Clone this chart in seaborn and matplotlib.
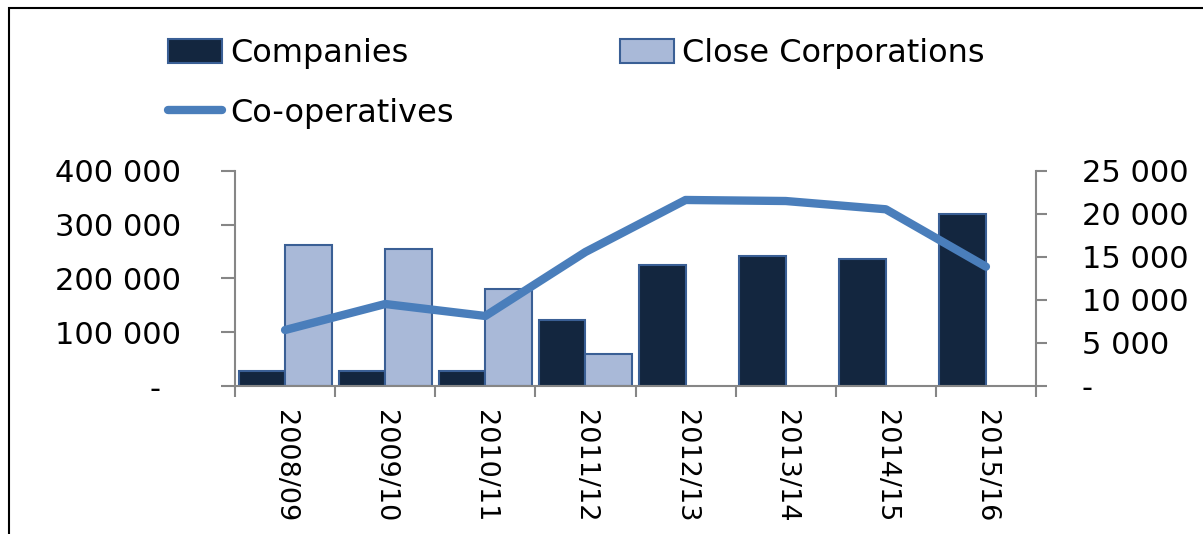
import numpy as np
import pandas as pd
import matplotlib
matplotlib.use("Agg")
import matplotlib.pyplot as plt
import seaborn as sns
from matplotlib.patches import Patch, Rectangle
from matplotlib.lines import Line2D
from matplotlib.ticker import FuncFormatter

years = ["2008/09", "2009/10", "2010/11", "2011/12", "2012/13", "2013/14", "2014/15", "2015/16"]
companies = [28000, 28000, 28000, 122700, 224300, 241600, 236600, 320300]
close_corps = [262600, 254600, 179700, 60000, np.nan, np.nan, np.nan, np.nan]
coops = [6500, 9520, 8130, 15560, 21600, 21480, 20520, 13860]

navy = "#13263F"
light = "#A9B9D8"
edge = "#3A5F95"
line_blue = "#4A7EBB"
gray = "#868686"

sns.set_style("ticks")
plt.rcParams["font.family"] = ["DejaVu Sans"]
plt.rcParams["text.color"] = "black"
plt.rcParams["xtick.labelcolor"] = "black"
plt.rcParams["ytick.labelcolor"] = "black"

df = pd.DataFrame({
    "Year": years * 2,
    "Type": ["Companies"] * len(years) + ["Close Corporations"] * len(years),
    "Count": companies + close_corps,
})

fig = plt.figure(figsize=(12.03, 5.34), dpi=100)
ax = fig.add_axes([235 / 1203, 1 - 386 / 534, (1036 - 235) / 1203, (386 - 170.7) / 534])

sns.barplot(data=df, x="Year", y="Count", hue="Type",
            hue_order=["Companies", "Close Corporations"],
            palette=[navy, light], width=0.93, edgecolor=edge, linewidth=1.5,
            saturation=1, legend=False, ax=ax)
ax.set_xlim(-0.5, len(years) - 0.5)
ax.set_ylim(0, 400000)
ax.set_yticks(np.arange(0, 400001, 100000))
fmt = lambda v, p: "-  " if v == 0 else f"{int(v):,}".replace(",", " ")
ax.yaxis.set_major_formatter(FuncFormatter(fmt))
ax.set_xlabel("")
ax.set_ylabel("")

# second axis for co-operatives
ax2 = ax.twinx()
sns.lineplot(x=years, y=coops, sort=False, color=line_blue, linewidth=6,
             solid_capstyle="round", ax=ax2)
ax2.set_ylim(0, 25000)
ax2.set_yticks(np.arange(0, 25001, 5000))
ax2.yaxis.set_major_formatter(FuncFormatter(lambda v, p: "-" if v == 0 else f"{int(v):,}".replace(",", " ")))
ax2.set_ylabel("")

# x ticks: labels at centres, tick marks at boundaries
ax.set_xticks(range(len(years)))
ax.set_xticklabels(years, rotation=270, fontsize=19.5)
ax.set_xticks(np.arange(-0.5, len(years), 1), minor=True)
ax.tick_params(axis="x", which="major", length=0, pad=17)
ax.tick_params(axis="x", which="minor", length=8, width=1.5, color=gray, bottom=True)
ax.tick_params(axis="y", length=10, width=1.5, color=gray, pad=29, labelsize=22, left=True)
ax2.tick_params(axis="y", length=8, width=1.5, color=gray, pad=25, labelsize=22, right=True)

for a in (ax, ax2):
    a.spines["top"].set_visible(False)
    for s in a.spines.values():
        s.set_color(gray)
        s.set_linewidth(1.5)
ax.spines["right"].set_visible(False)
ax2.spines["left"].set_visible(False)
ax2.spines["bottom"].set_visible(False)

handles = [
    Patch(facecolor=navy, edgecolor=edge, linewidth=1.5),
    Line2D([], [], color=line_blue, linewidth=6, solid_capstyle="round"),
    Patch(facecolor=light, edgecolor=edge, linewidth=1.5),
]
labels = ["Companies", "Co-operatives", "Close Corporations"]
fig.legend(handles, labels, ncol=2, loc="upper left",
           bbox_to_anchor=(168 / 1203, 1 - 38 / 534), frameon=False,
           fontsize=23, handlelength=1.7, handleheight=0.8, handletextpad=0.25,
           columnspacing=5.2, labelspacing=0.9, borderpad=0, borderaxespad=0)

# outer frame, cut off at right and bottom like the source
fig.add_artist(Rectangle((9 / 1203, -0.2), 1.2, 1.2 - 8 / 534 + 0.0,
                         transform=fig.transFigure, fill=False,
                         edgecolor="black", linewidth=1.5))

fig.savefig("out.png", dpi=100)
